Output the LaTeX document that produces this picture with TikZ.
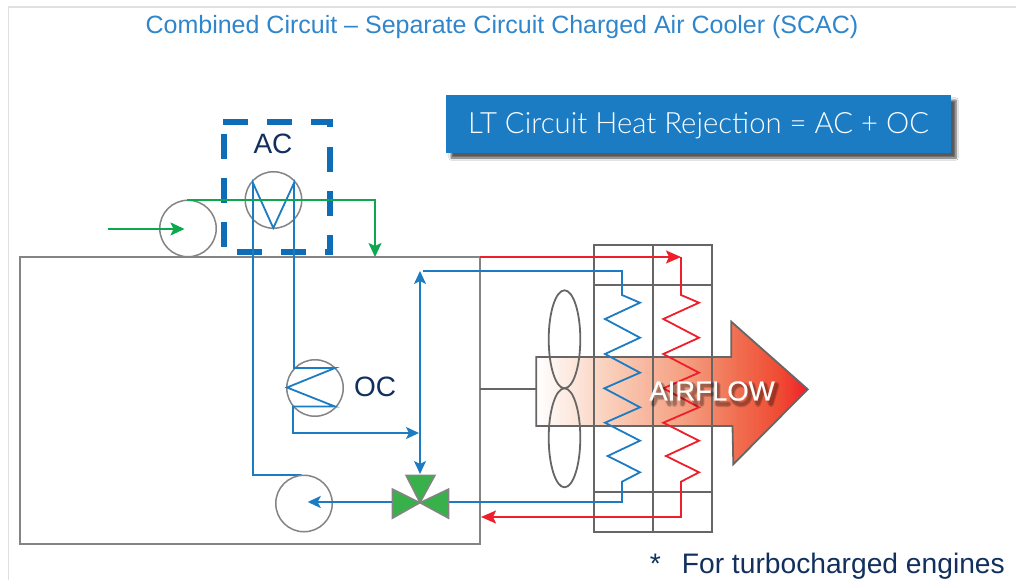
\documentclass[tikz,border=0pt]{standalone}
\usepackage{fontspec}
\setmainfont{Liberation Sans}
\newfontfamily\hdrf{Lato Light}
\newfontfamily\airf[FakeBold=0.4]{Liberation Sans}
\usetikzlibrary{arrows.meta,shadows.blur}
\definecolor{cblue}{HTML}{1B7CC3}
\definecolor{tblue}{HTML}{2F86CC}
\definecolor{dblue}{HTML}{0F6CB6}
\definecolor{navy}{HTML}{12305E}
\definecolor{cgreen}{HTML}{0DA84E}
\definecolor{vgreen}{HTML}{39B14A}
\definecolor{cred}{HTML}{EE1F2B}
\definecolor{cgray}{HTML}{666666}
\definecolor{lgray}{HTML}{848484}
\definecolor{framec}{HTML}{E0E0E0}
\definecolor{airA}{RGB}{250,208,188}
\definecolor{airB}{RGB}{245,160,130}
\definecolor{airC}{RGB}{241,110,80}
\definecolor{airD}{RGB}{239,74,51}
\pgfdeclarehorizontalshading{airshade}{100bp}{
 color(0bp)=(white); color(25bp)=(white);
 color(38bp)=(airA);
 color(52bp)=(airB);
 color(62bp)=(airC);
 color(70bp)=(airD);
 color(75bp)=(cred); color(100bp)=(cred)}
\tikzset{x=1pt,y=-1pt,
 grayline/.style={draw=cgray,line width=1.8pt},
 pump/.style={circle,draw=lgray,line width=1.5pt,minimum size=56.5pt,inner sep=0pt},
 bl/.style={draw=cblue,line width=1.8pt,line join=miter},
 gr/.style={draw=cgreen,line width=1.8pt},
 rd/.style={draw=cred,line width=1.8pt},
 bla/.style={bl,-{Stealth[length=13pt,width=12pt,inset=3pt]}},
 gra/.style={gr,-{Stealth[length=14pt,width=13pt,inset=3pt]}},
 rda/.style={rd,-{Stealth[length=15pt,width=13pt,inset=3pt]}},
 valve/.style={draw=lgray,line width=1.5pt,fill=vgreen,line join=miter},
 lab/.style={text=navy,font=\fontsize{28}{32}\selectfont,inner sep=0pt},
 dashb/.style={draw=dblue,line width=6pt,dash pattern=on 25pt off 19pt},
}
\newcommand{\airglyphs}[1]{%
 \draw[black,opacity=0.13,line width=#1,line join=round,line cap=round,shift={(2.5,3)}]
  (651,401) -- (659,382) -- (667,401) (654,394) -- (664,394)
  (672,382) -- (672,401)
  (680,401) -- (680,382) -- (690,382) -- (693,387) -- (690,392) -- (680,392) (689,392) -- (694,401)
  (699,401) -- (699,382) -- (711,382) (699,391) -- (709,391)
  (715,382) -- (715,401) -- (726,401)
  (738.5,391.5) ellipse [x radius=9,y radius=10]
  (750,382) -- (755.5,401) -- (762,382) -- (768.5,401) -- (774,382);}
\begin{document}
\begin{tikzpicture}
\useasboundingbox (0,0) rectangle (1016,580);
\fill[white] (0,0) rectangle (1016,580);
\coordinate (fa) at (1016,7);
\coordinate (fb) at (8.5,7);
\coordinate (fc) at (8.5,580);
\draw[framec,line width=1.8pt] (fa) -- (fb) -- (fc);
\node[text=tblue,font=\fontsize{25}{28}\selectfont,inner sep=0pt] (title) at (502,27) {Combined Circuit – Separate Circuit Charged Air Cooler (SCAC)};
\node[fill=cblue,text=white,minimum width=505pt,minimum height=58pt,inner sep=0pt,font=\hdrf\fontsize{29.3}{32}\selectfont,blur shadow={shadow xshift=5pt,shadow yshift=-5pt,shadow blur steps=6,shadow opacity=65}] (hdr) at (698.5,124) {\raisebox{-10pt}[0pt][0pt]{LT Circuit Heat Rejection = AC + OC}};
% main box
\draw[draw=lgray,line width=1.8pt] (20,257) rectangle (480,544);
% airflow arrow
\path[shading=airshade,draw=cgray,line width=1.8pt] (536.3,357) -- (731.3,357) -- (731.3,321.7) -- (807.7,389.3) -- (733.3,464.3) -- (732.5,426) -- (536.3,426) -- cycle;
% radiator
\draw[grayline,line width=2pt] (594,245) rectangle (712,532);
\draw[grayline] (653,245) -- (653,532);
\draw[grayline] (594,285) -- (712,285);
\draw[grayline] (594,492) -- (712,492);
% fan
\draw[grayline] (564.5,339.3) ellipse [x radius=15.8,y radius=49];
\draw[grayline] (564.5,437.8) ellipse [x radius=15.8,y radius=49.5];
\coordinate (fanl) at (480,389);
\coordinate (fanr) at (536,389);
\draw[grayline] (fanl) -- (fanr);
% coils
\draw[bl] (423,271) -- (622,271) -- (622,295) -- (640,302.7) -- (605,319) -- (640,337.7) -- (605,354) -- (640,372.7) -- (604.3,388.3) -- (640,407.3) -- (605,422.7) -- (640,440.7) -- (607.7,456) -- (640,472.3) -- (622,481.7) -- (622,502) -- (449,502);
\draw[rd] (681,257) -- (681,295) -- (699,302.7) -- (663.3,319) -- (699,337.7) -- (663.3,354) -- (699,372.7) -- (663.3,388.3) -- (699,407.3) -- (663.3,422.7) -- (699,440.7) -- (666,456) -- (699,472.3) -- (681,481.7) -- (681,517) -- (520,517);
\coordinate (rs) at (480,257);
\coordinate (re) at (681,257);
\draw[rda] (rs) -- (re);
\coordinate (rb) at (681,517);
\coordinate (rbe) at (481,517);
\draw[rda] (rb) -- (rbe);
% AC dashed box
\draw[dashb] (223,122) -- (333,122);
\draw[dashb] (223.5,134) -- (223.5,250);
\draw[draw=dblue,line width=6pt] (330,119) -- (330,127);
\draw[dashb] (330,147) -- (330,255);
\draw[dashb] (237,252) -- (333,252);
% AC
\node[pump] (ac) at (273.5,200) {};
\node[lab] (aclab) at (273,144) {AC};
\draw[bl] (294,362) -- (294,183) -- (273.3,228) -- (253,183) -- (253,475) -- (301.7,475);
% OC
\node[pump] (oc) at (315,388) {};
\node[lab] (oclab) at (375,387) {OC};
\draw[bl] (294,362) -- (294,368) -- (335,368) -- (287,387.5) -- (335,406.5) -- (293,406.5) -- (293,433) -- (405,433);
\coordinate (ocv) at (405,433);
\coordinate (join) at (419,433);
\draw[bla] (ocv) -- (join);
% pumps
\node[pump] (p1) at (188,228.5) {};
\coordinate (gin) at (108,229);
\coordinate (gend) at (184.5,229);
\draw[gra] (gin) -- (gend);
\coordinate (gs) at (187,200);
\coordinate (gc) at (375,200);
\coordinate (ge) at (375,257);
\draw[gra] (gs) -- (gc) -- (ge);
\node[pump] (p2) at (304,503.5) {};
% valve
\coordinate (vc) at (420,502.7);
\draw[valve] (vc) -- (392.3,489) -- (392.3,518.3) -- cycle;
\draw[valve] (vc) -- (448.7,489) -- (448.7,518.3) -- cycle;
\draw[valve] (vc) -- (406,475.3) -- (435,475.3) -- cycle;
\coordinate (vtop) at (420,474);
\coordinate (vup) at (420,271);
\draw[bl,{Stealth[length=13pt,width=12pt,inset=3pt]}-{Stealth[length=13pt,width=12pt,inset=3pt]}] (vup) -- (vtop);
\coordinate (pl) at (392,502);
\coordinate (pe) at (307.7,502);
\draw[bla] (pl) -- (pe);
% labels
\airglyphs{6pt}
\airglyphs{4.5pt}
\airglyphs{3pt}
\node[text=white,font=\airf\fontsize{27.5}{30}\selectfont,inner sep=0pt] (air) at (712,391) {AIRFLOW};
\node[text=navy,font=\fontsize{28.2}{32}\selectfont,inner sep=0pt,anchor=east] (note) at (1005,566) {*\hspace{21pt}For turbocharged engines};
\end{tikzpicture}
\end{document}
